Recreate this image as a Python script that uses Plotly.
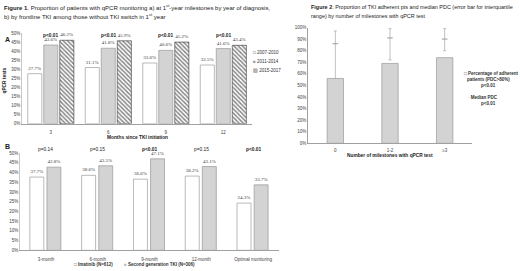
import plotly.graph_objects as go

W, H = 520, 271
def px(x): return x / W
def py(y): return 1 - y / H

# ---------------- data ----------------
months = ["3", "6", "9", "12"]
a_2007_2010 = [27.7, 31.1, 33.6, 32.5]
a_2011_2014 = [43.6, 41.8, 40.6, 41.6]
a_2015_2017 = [46.2, 45.9, 45.2, 43.4]
a_pvals = ["p<0.01", "p<0.01", "p<0.01", "p<0.01"]

b_cats = ["3-month", "6-month", "9-month", "12-month", "Optimal monitoring"]
b_imatinib = [37.7, 38.6, 36.6, 38.2, 24.3]
b_second = [42.8, 43.5, 47.1, 43.1, 33.7]
b_pvals = ["p=0.14", "p=0.15", "p<0.01", "p=0.15", "p<0.01"]

f2_cats = ["0", "1-2", "≥3"]
f2_adherent = [56, 69, 74]
f2_median = [86, 91, 90]
f2_q1 = [56, 72, 80]
f2_q3 = [97, 99, 99]

# ---------------- style ----------------
SANS = "Liberation Sans"
SERIF = "Liberation Serif"
TXT = "#404040"
EDGE = "#8c8c8c"
GRAY = "#d3d3d3"
lbl_font = dict(family=SERIF, size=5, color=TXT)

fig = go.Figure()

def bar(x, y, xa, ya, color, width, offset, pattern=None, line_color=EDGE):
    return go.Bar(
        x=x, y=y, xaxis=xa, yaxis=ya,
        marker=dict(color=color, line=dict(color=line_color, width=0.6),
                    pattern=pattern or {}),
        width=width, offset=offset,
        texttemplate="%{y:.1f}%", textposition="outside",
        textfont=lbl_font, constraintext="none", cliponaxis=False,
        showlegend=False, hoverinfo="skip",
    )

# Panel A
fig.add_trace(bar(months, a_2007_2010, "x", "y", "white", 0.245, -0.40))
fig.add_trace(bar(months, a_2011_2014, "x", "y", GRAY, 0.245, -0.122))
fig.add_trace(bar(months, a_2015_2017, "x", "y", "white", 0.245, 0.157,
                  pattern=dict(shape="\\", fgcolor="#111111", bgcolor="white",
                               size=3, solidity=0.5),
                  line_color="#333333"))
# Panel B
fig.add_trace(bar(b_cats, b_imatinib, "x2", "y2", "white", 0.27, -0.31))
fig.add_trace(bar(b_cats, b_second, "x2", "y2", GRAY, 0.27, 0.02))
# Figure 2
fig.add_trace(go.Bar(
    x=f2_cats, y=f2_adherent, xaxis="x3", yaxis="y3",
    marker=dict(color=GRAY, line=dict(color=EDGE, width=0.6)),
    width=0.3, showlegend=False, hoverinfo="skip"))
fig.add_trace(go.Scatter(
    x=f2_cats, y=f2_median, xaxis="x3", yaxis="y3", mode="markers",
    marker=dict(symbol="line-ew", size=4, line=dict(color="#9a9a9a", width=1)),
    error_y=dict(type="data", symmetric=False,
                 array=[q3 - m for q3, m in zip(f2_q3, f2_median)],
                 arrayminus=[m - q1 for m, q1 in zip(f2_median, f2_q1)],
                 color="#b0b0b0", thickness=0.8, width=1.5),
    showlegend=False, hoverinfo="skip", cliponaxis=False))

tick_font = dict(family=SANS, size=4.5, color=TXT)
common_x = dict(type="category", showline=True, linecolor="#a0a0a0", linewidth=0.8,
                ticks="", showgrid=False, tickfont=tick_font, fixedrange=True)
common_y = dict(showline=True, linecolor="#c8c8c8", linewidth=0.8, ticks="",
                showgrid=False, zeroline=False, tickfont=tick_font, ticksuffix="%",
                fixedrange=True)

fig.update_layout(
    width=W, height=H, margin=dict(l=0, r=0, t=0, b=0, pad=0),
    paper_bgcolor="white", plot_bgcolor="white", showlegend=False,
    font=dict(family=SANS, color=TXT),
    xaxis=dict(common_x, domain=[px(22), px(252)], anchor="y", ticklabelstandoff=4,
               range=[-0.5, len(months) - 0.5]),
    yaxis=dict(common_y, domain=[py(124), py(32)], range=[0, 50], dtick=5,
               anchor="x"),
    xaxis2=dict(common_x, domain=[px(20), px(279)], anchor="y2", ticklabelstandoff=4,
                range=[-0.5, len(b_cats) - 0.5]),
    yaxis2=dict(common_y, domain=[py(253), py(154)], range=[0, 50], dtick=5,
                anchor="x2"),
    xaxis3=dict(common_x, domain=[px(308), px(472)], anchor="y3", ticklabelstandoff=2,
                range=[-0.5, len(f2_cats) - 0.5]),
    yaxis3=dict(common_y, domain=[py(144), py(26)], range=[0, 100], dtick=10,
                anchor="x3", linecolor="#a0a0a0"),
)

ann = []
def note(text, x, y, size=5, xanchor="left", color="#222", xref="paper",
         family=SANS, textangle=0):
    ann.append(dict(text=text, x=(px(x) if xref == "paper" else x), y=py(y),
                    xref=xref, yref="paper", xanchor=xanchor, yanchor="middle",
                    showarrow=False, textangle=textangle,
                    font=dict(family=family, size=size, color=color)))

# Titles
note("<b>Figure 1</b>. Proportion of patients with qPCR monitoring a) at 1<sup>st</sup>-year milestones by year of diagnosis,", 2, 5, size=6)
note("b) by frontline TKI among those without TKI switch in 1<sup>st</sup> year", 2, 14, size=6)
note("<b>Figure 2</b>. Proportion of TKI adherent pts and median PDC (error bar for interquartile", 309, 5, size=5.45)
note("range) by number of milestones with qPCR test", 309, 14, size=5.45)
note("<b>A</b>", 3, 38, size=7)
note("<b>B</b>", 3, 147, size=7)

# p-values (placed at category index of each group)
for i, p in enumerate(a_pvals):
    note(f"<b>{p}</b>", i, 34, size=4.8, xanchor="center", xref="x")
for i, p in enumerate(b_pvals):
    t = f"<b>{p}</b>" if p.startswith("p<") else p
    note(t, i, 150, size=4.8, xanchor="center", xref="x2")

# axis titles
note("<b>qPCR tests</b>", 5, 80, size=4.8, xanchor="center", textangle=-90)
note("<b>Months since TKI initiation</b>", 137, 138, size=4.8, xanchor="center")
note("<b>Number of milestones with qPCR test</b>", 390, 156, size=4.8, xanchor="center")

# legends (text keys)
note("□ 2007-2010", 251, 51, size=4.5, color="#333")
note("<span style='color:#999'>■</span> 2011-2014", 251, 61, size=4.5, color="#333")
note("▨ 2015-2017", 251, 70, size=4.5, color="#333")
note("□ <b>Imatinib (N=612)</b>", 72, 267, size=4.5, color="#333")
note("<span style='color:#bbb'>■</span> <b>Second generation TKI (N=306)</b>", 122, 267, size=4.5, color="#333")
note("□ <b>Percentage of adherent</b>", 462, 73, size=4.5, color="#333")
note("<b>patients (PDC>80%)</b>", 488, 79, size=4.5, color="#333", xanchor="center")
note("<b>p<0.01</b>", 488, 85, size=4.5, color="#333", xanchor="center")
note("<span style='color:#999'>-</span> <b>Median PDC</b>", 466, 97, size=4.5, color="#333")
note("<b>p<0.01</b>", 488, 103, size=4.5, color="#333", xanchor="center")

fig.update_layout(annotations=ann)
fig.write_html("out.html", config={"displayModeBar": False},
               post_script="document.body.style.margin='0';document.body.style.overflow='hidden';")
